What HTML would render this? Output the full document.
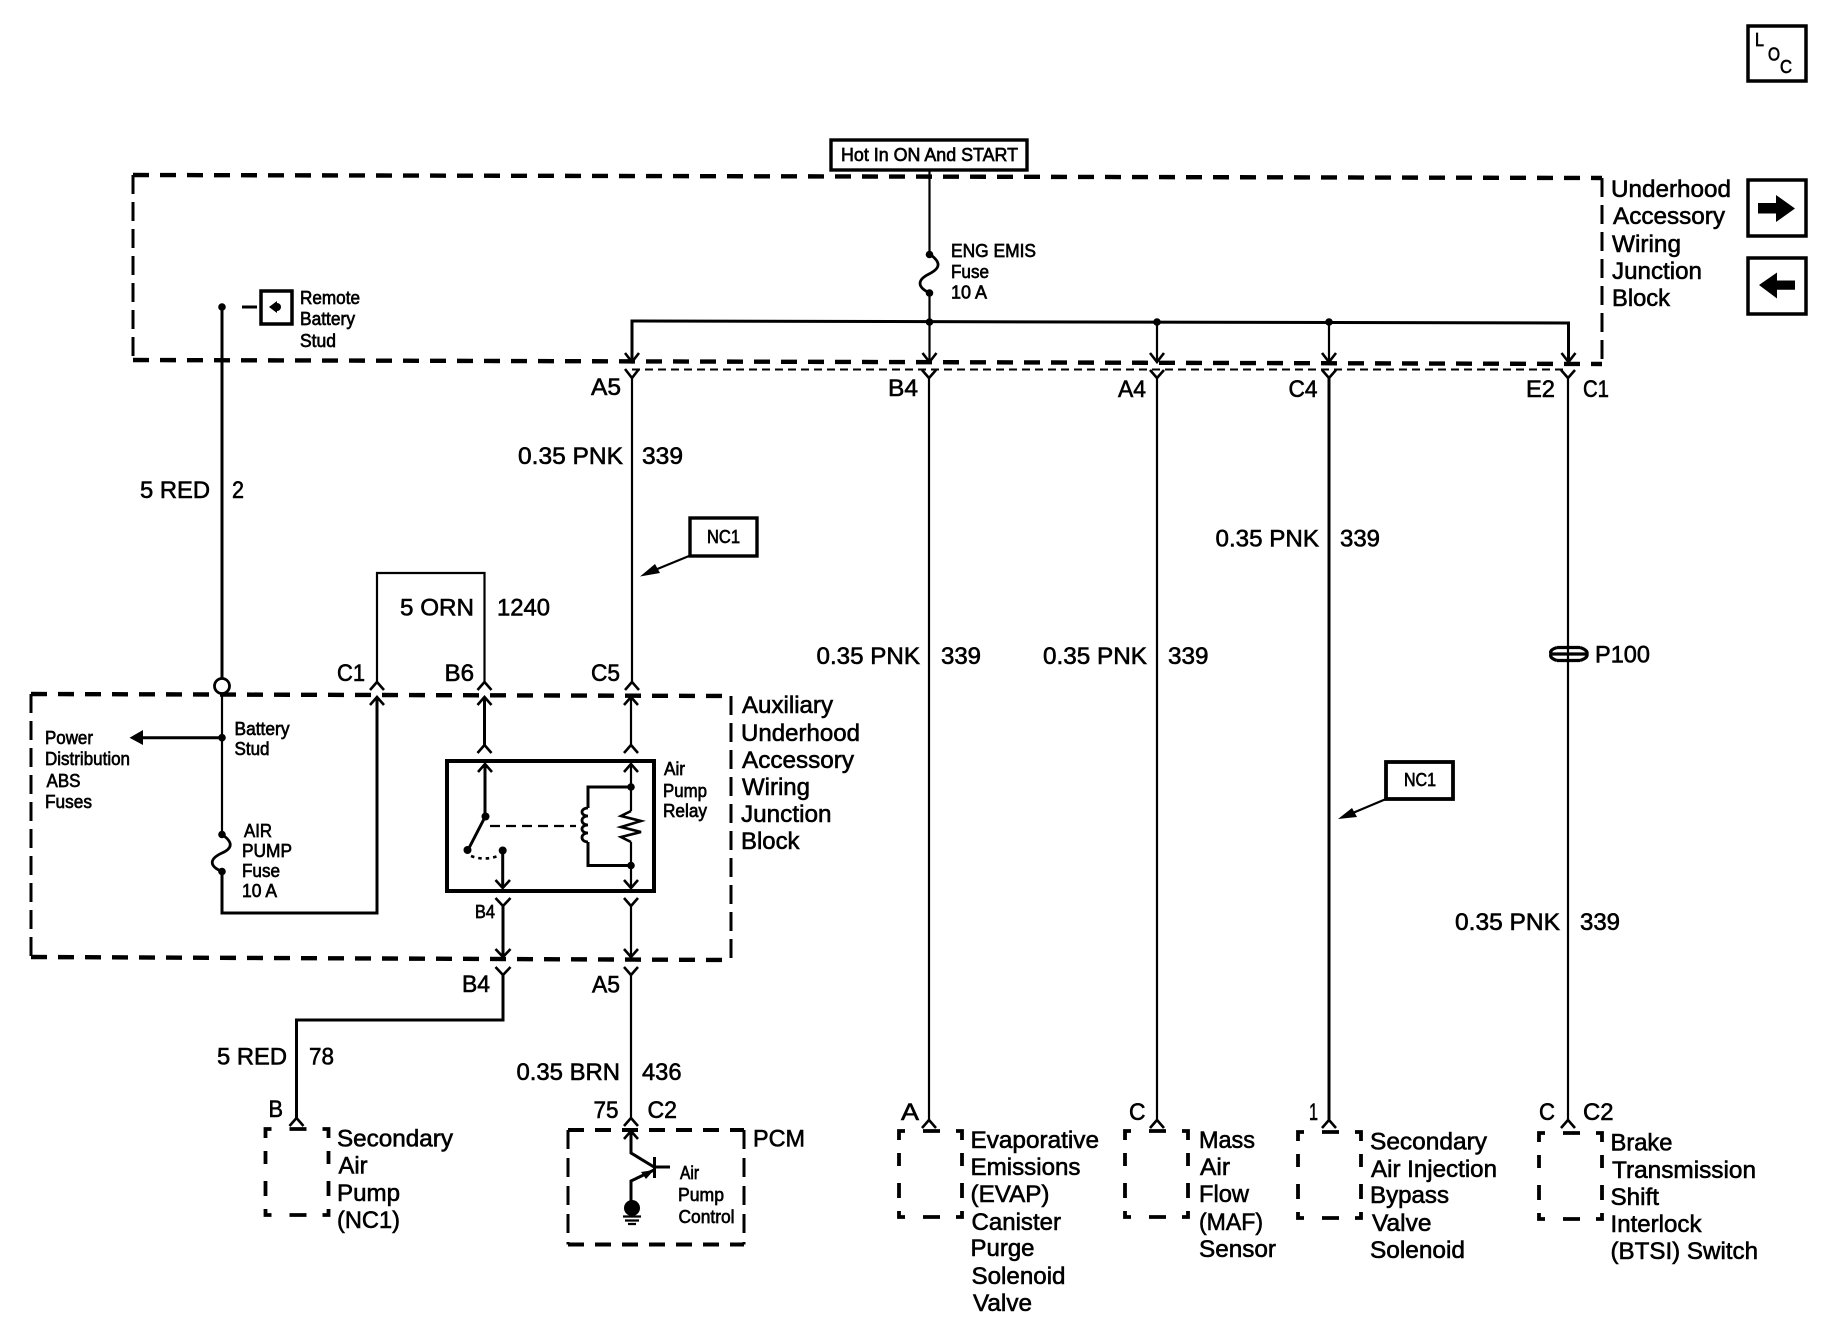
<!DOCTYPE html>
<html><head><meta charset="utf-8"><style>
html,body{margin:0;padding:0;background:#fff;width:1830px;height:1344px;overflow:hidden}
svg{display:block}
text{font-family:"Liberation Sans",sans-serif;fill:#000;stroke:#000}
.b{font-size:24px;stroke-width:.6px}
.s{font-size:18px;stroke-width:.65px}
.w{fill:none;stroke:#000;stroke-width:2.2}
.k{fill:none;stroke:#000;stroke-width:3}
.c{fill:none;stroke:#000;stroke-width:2.6}
.d{fill:none;stroke:#000;stroke-width:4.4;stroke-dasharray:16 11}
.v{fill:none;stroke:#000;stroke-width:3;stroke-dasharray:19 8}
</style></head><body>
<svg width="1830" height="1344" viewBox="0 0 1830 1344" xmlns="http://www.w3.org/2000/svg">
<defs>
<g id="sb" fill="none" stroke="#000" stroke-width="3.8">
<path d="M0 9V0H6M24 0H41M57 0H63V9M0 22V35M0 52V67M0 80V86H6M24 86H41M57 86H63V80M63 22V35M63 52V67"/>
</g>
</defs>

<!-- top dashed block -->
<path class="d" d="M133 175L1602 178"/>
<path class="d" d="M133 360L1602 364"/>
<path class="v" d="M133 175V360"/>
<path class="v" d="M1602 178V364"/>
<path d="M632 369.500H1568" fill="none" stroke="#000" stroke-width="2" stroke-dasharray="8 5"/>

<!-- lower dashed block -->
<path class="d" d="M31 694L731 696"/>
<path class="d" d="M31 957L731 960"/>
<path class="v" d="M31 694V957"/>
<path class="v" d="M731 696V960"/>

<!-- hot box -->
<rect x="831" y="140" width="196" height="30" fill="#fff" stroke="#000" stroke-width="3.4"/>
<text class="s" x="841" y="161" textLength="177" lengthAdjust="spacingAndGlyphs">Hot In ON And START</text>

<!-- LOC and nav -->
<rect x="1748" y="26" width="58" height="55" fill="none" stroke="#000" stroke-width="3.5"/>
<text class="s" x="1755" y="46" textLength="9" lengthAdjust="spacingAndGlyphs">L</text><text class="s" x="1768" y="60.500" textLength="12" lengthAdjust="spacingAndGlyphs">O</text><text class="s" x="1780" y="73" textLength="12" lengthAdjust="spacingAndGlyphs">C</text>
<rect x="1748" y="180" width="58" height="56" fill="none" stroke="#000" stroke-width="3.5"/>
<path d="M1758 203H1776V195L1795 208.500L1776 222V213.500H1758Z"/>
<rect x="1748" y="258" width="58" height="56" fill="none" stroke="#000" stroke-width="3.500"/>
<path d="M1795 280.500H1777V272.500L1759 285L1777 298.500V289.700H1795Z"/>

<!-- main bus and feeds -->
<path class="w" d="M929.500 170V254"/>
<path class="w" d="M929.500 293V362"/>
<path d="M929.500 254C941 262 941 268 929 274C917 280 917 287 929.500 293" fill="none" stroke="#000" stroke-width="2.800"/>
<circle cx="929.500" cy="254.500" r="3.800"/><circle cx="929.500" cy="293" r="3.800"/>
<path class="k" d="M632 362V321L1568.500 323V362"/>
<path class="w" d="M1157 322V362M1329 322V362"/>
<circle cx="929.500" cy="322" r="3.800"/><circle cx="1157" cy="322" r="3.800"/><circle cx="1329" cy="322" r="3.800"/>

<!-- down arrows at top-box boundary -->
<path class="c" d="M625 353L632 362L639 353M922.500 353L929.500 362L936.500 353M1150 353L1157 362L1164 353M1322 353L1329 362L1336 353M1561.500 353L1568.500 362L1575.500 353"/>
<!-- Y connectors -->
<path class="c" d="M625 369L632 378L639 369M922 370L929 378L936 370M1150 370L1157 378L1164 370M1322 370L1329 378L1336 370M1561 370L1568 378L1575 370"/>

<!-- long wires -->
<path class="w" d="M632 378V682"/>
<path class="w" d="M929 378V1120"/>
<path class="w" d="M1157 378V1120"/>
<path class="k" d="M1329 378V1120"/>
<path class="w" d="M1568 378V1120"/>

<!-- red wire and stud -->
<path class="k" d="M222 307V678"/>
<circle cx="222" cy="307" r="3.800"/>
<path class="k" d="M242 307H257"/>
<rect x="261" y="291" width="31" height="33" fill="#fff" stroke="#000" stroke-width="3.500"/>
<path d="M269 307L277 301V313Z"/><circle cx="277" cy="307" r="4"/>
<circle cx="222" cy="686" r="7.500" fill="#fff" stroke="#000" stroke-width="2.800"/>
<path class="w" d="M222 694V834"/>
<path d="M222 834.500C233 842 233 848 222 853C209 859 209 866 222 871.500" fill="none" stroke="#000" stroke-width="2.800"/>
<circle cx="222" cy="834.500" r="3.800"/><circle cx="222" cy="871.500" r="3.800"/>
<path class="k" d="M222 871.500V913H377V697"/>
<path class="k" d="M222 737.700H140"/>
<path d="M129.500 737.700L143 730V745Z"/><circle cx="222" cy="737.700" r="3.800"/>

<!-- ORN -->
<path class="w" d="M377 682V573H484.500V682"/>
<path class="c" d="M370 690L377 682L384 690M477.500 690L484.500 682L491.500 690M625 690L632 682L639 690"/>
<path class="c" d="M370 705L377 697L384 705M477.500 705L484.500 697L491.500 705M624 705L631 697L638 705"/>
<path class="k" d="M484.500 697V745"/>
<path class="w" d="M631 697V745"/>
<path class="c" d="M477.500 753L484.500 745L491.500 753M624 753L631 745L638 753"/>

<!-- relay -->
<rect x="447" y="761" width="207" height="130" fill="none" stroke="#000" stroke-width="4"/>
<path class="c" d="M478 772L485 764L492 772M624 772L631 764L638 772"/>
<path class="k" d="M485 764V817"/>
<path class="k" d="M485 817L468 850"/>
<circle cx="485.500" cy="816.500" r="4"/><circle cx="467.500" cy="850" r="4"/><circle cx="502.700" cy="850.500" r="4"/>
<path d="M471 856Q484 861 498 856" fill="none" stroke="#000" stroke-width="2.600" stroke-dasharray="3.500 4"/>
<path class="k" d="M502.700 850V888"/>
<path class="c" d="M495.500 880L502.700 888L510 880M624 880L631 888L638 880"/>
<path fill="none" stroke="#000" stroke-width="2.200" stroke-dasharray="10 6" d="M490 826H576"/>
<path class="k" d="M631 787H588V808M588 842V865.500H631"/>
<path d="M588 808C580 808 580 816 588 816C580 816 580 825 588 825C580 825 580 833 588 833C580 833 580 842 588 842" fill="none" stroke="#000" stroke-width="2.800"/>
<path class="w" d="M631 764V811M631 842V888"/>
<path d="M631 811L621 816L641 821L621 827L641 832L621 837L631 842" fill="none" stroke="#000" stroke-width="2.600"/>
<circle cx="631" cy="787" r="3.800"/><circle cx="631" cy="865.500" r="3.800"/>

<!-- lower relay wires -->
<path class="c" d="M495.500 898L503 906L510.500 898M624 898L631 906L638 898"/>
<path class="k" d="M503 906V957"/>
<path class="w" d="M631 906V957"/>
<path class="c" d="M495.500 949L503 957L510.500 949M624 949L631 957L638 949"/>
<path class="c" d="M495.500 967L503 975L510.500 967M624 967L631 975L638 967"/>
<path class="k" d="M503 975V1020H296.500V1118"/>
<path class="w" d="M631 975V1118"/>

<!-- bottom carets -->
<path class="c" d="M289.500 1126L296.500 1118L303.500 1126M624 1126L631 1118L638 1126M922 1128L929 1120L936 1128M1150 1128L1157 1120L1164 1128M1322 1128L1329 1120L1336 1128M1561 1128L1568 1120L1575 1128"/>

<!-- bottom dashed boxes -->
<use href="#sb" x="265.500" y="1129"/>
<use href="#sb" x="899" y="1131"/>
<use href="#sb" x="1125" y="1131"/>
<use href="#sb" x="1298" y="1132"/>
<use href="#sb" x="1539" y="1133"/>
<path fill="none" stroke="#000" stroke-width="4" stroke-dasharray="16 11" d="M568 1130H744"/>
<path fill="none" stroke="#000" stroke-width="4" stroke-dasharray="16 11" d="M568 1244.500H744"/>
<path fill="none" stroke="#000" stroke-width="3" stroke-dasharray="19 9" d="M568 1130V1244.500"/>
<path fill="none" stroke="#000" stroke-width="3" stroke-dasharray="19 9" d="M744 1130V1244.500"/>

<!-- PCM internals -->
<path class="c" d="M624 1139L631 1131L638 1139"/>
<path class="k" d="M631 1131V1153L654 1167"/>
<path class="k" d="M654.500 1157V1178M654.500 1167H670"/>
<path class="k" d="M654 1170L631 1181V1201"/>
<path d="M654 1170L641 1172L646 1179Z"/>
<ellipse cx="632" cy="1208" rx="8" ry="8"/>
<path class="w" d="M623 1216.500H641M625 1220.500H639M628 1224H636"/>

<!-- P100 -->
<path fill="none" stroke="#000" stroke-width="3.200" d="M1557 647.500H1580M1551 654H1587M1557 660.500H1580"/>
<path fill="none" stroke="#000" stroke-width="3.200" d="M1557 647.500Q1549 650 1551 654Q1549 658 1557 660.500M1580 647.500Q1588 650 1587 654Q1588 658 1580 660.500"/>

<!-- NC1 callouts -->
<rect x="690" y="518" width="67" height="38" fill="#fff" stroke="#000" stroke-width="3.400"/>
<text class="s" x="707" y="543" textLength="33" lengthAdjust="spacingAndGlyphs">NC1</text>
<path class="w" d="M689 556L650 572"/>
<path d="M640 576.500L655 564L660 573Z"/>
<rect x="1386" y="762" width="67" height="37" fill="#fff" stroke="#000" stroke-width="3.800"/>
<text class="s" x="1404" y="786" textLength="32" lengthAdjust="spacingAndGlyphs">NC1</text>
<path class="w" d="M1386 799L1348 815"/>
<path d="M1338 819L1352 808L1357 817Z"/>

<!-- small labels -->
<text class="s" x="300" y="304" textLength="60" lengthAdjust="spacingAndGlyphs">Remote</text>
<text class="s" x="300" y="325" textLength="55" lengthAdjust="spacingAndGlyphs">Battery</text>
<text class="s" x="300" y="347" textLength="36" lengthAdjust="spacingAndGlyphs">Stud</text>
<text class="s" x="951" y="257" textLength="85" lengthAdjust="spacingAndGlyphs">ENG EMIS</text>
<text class="s" x="951" y="278" textLength="38" lengthAdjust="spacingAndGlyphs">Fuse</text>
<text class="s" x="951" y="298.500" textLength="36" lengthAdjust="spacingAndGlyphs">10 A</text>
<text class="s" x="45" y="744" textLength="48" lengthAdjust="spacingAndGlyphs">Power</text>
<text class="s" x="45" y="765" textLength="85" lengthAdjust="spacingAndGlyphs">Distribution</text>
<text class="s" x="46.500" y="787" textLength="34" lengthAdjust="spacingAndGlyphs">ABS</text>
<text class="s" x="45" y="808" textLength="47" lengthAdjust="spacingAndGlyphs">Fuses</text>
<text class="s" x="234.500" y="735" textLength="55" lengthAdjust="spacingAndGlyphs">Battery</text>
<text class="s" x="234.500" y="755" textLength="35" lengthAdjust="spacingAndGlyphs">Stud</text>
<text class="s" x="244" y="837" textLength="28" lengthAdjust="spacingAndGlyphs">AIR</text>
<text class="s" x="242" y="857" textLength="50" lengthAdjust="spacingAndGlyphs">PUMP</text>
<text class="s" x="242" y="877" textLength="38" lengthAdjust="spacingAndGlyphs">Fuse</text>
<text class="s" x="242" y="897" textLength="35" lengthAdjust="spacingAndGlyphs">10 A</text>
<text class="s" x="664" y="775" textLength="21" lengthAdjust="spacingAndGlyphs">Air</text>
<text class="s" x="663" y="797" textLength="44" lengthAdjust="spacingAndGlyphs">Pump</text>
<text class="s" x="663" y="817" textLength="44" lengthAdjust="spacingAndGlyphs">Relay</text>
<text class="s" x="475" y="918" textLength="20" lengthAdjust="spacingAndGlyphs">B4</text>
<text class="s" x="680" y="1179" textLength="19" lengthAdjust="spacingAndGlyphs">Air</text>
<text class="s" x="678" y="1201" textLength="46" lengthAdjust="spacingAndGlyphs">Pump</text>
<text class="s" x="678.500" y="1223" textLength="56" lengthAdjust="spacingAndGlyphs">Control</text>

<!-- large labels -->
<text class="b" x="1611" y="197" textLength="120" lengthAdjust="spacingAndGlyphs">Underhood</text>
<text class="b" x="1613" y="224" textLength="112" lengthAdjust="spacingAndGlyphs">Accessory</text>
<text class="b" x="1612" y="252" textLength="69" lengthAdjust="spacingAndGlyphs">Wiring</text>
<text class="b" x="1612" y="279" textLength="90" lengthAdjust="spacingAndGlyphs">Junction</text>
<text class="b" x="1612" y="306" textLength="58" lengthAdjust="spacingAndGlyphs">Block</text>

<text class="b" x="591" y="395" textLength="30" lengthAdjust="spacingAndGlyphs">A5</text>
<text class="b" x="888" y="396" textLength="30" lengthAdjust="spacingAndGlyphs">B4</text>
<text class="b" x="1118" y="397" textLength="28" lengthAdjust="spacingAndGlyphs">A4</text>
<text class="b" x="1288.500" y="397" textLength="29" lengthAdjust="spacingAndGlyphs">C4</text>
<text class="b" x="1526" y="397" textLength="29" lengthAdjust="spacingAndGlyphs">E2</text>
<text class="b" x="1583" y="397" textLength="26" lengthAdjust="spacingAndGlyphs">C1</text>

<text class="b" x="518" y="464" textLength="105" lengthAdjust="spacingAndGlyphs">0.35 PNK</text>
<text class="b" x="642" y="464" textLength="41" lengthAdjust="spacingAndGlyphs">339</text>
<text class="b" x="140" y="498" textLength="70" lengthAdjust="spacingAndGlyphs">5 RED</text>
<text class="b" x="232" y="498" textLength="12" lengthAdjust="spacingAndGlyphs">2</text>
<text class="b" x="1215.500" y="546.500" textLength="103.500" lengthAdjust="spacingAndGlyphs">0.35 PNK</text>
<text class="b" x="1340" y="546.500" textLength="40" lengthAdjust="spacingAndGlyphs">339</text>
<text class="b" x="400" y="615.500" textLength="74" lengthAdjust="spacingAndGlyphs">5 ORN</text>
<text class="b" x="497" y="615.500" textLength="53" lengthAdjust="spacingAndGlyphs">1240</text>
<text class="b" x="816.500" y="664" textLength="103.500" lengthAdjust="spacingAndGlyphs">0.35 PNK</text>
<text class="b" x="941" y="664" textLength="40" lengthAdjust="spacingAndGlyphs">339</text>
<text class="b" x="1043" y="664" textLength="104" lengthAdjust="spacingAndGlyphs">0.35 PNK</text>
<text class="b" x="1168" y="664" textLength="40.500" lengthAdjust="spacingAndGlyphs">339</text>
<text class="b" x="1595" y="662.500" textLength="55" lengthAdjust="spacingAndGlyphs">P100</text>
<text class="b" x="1455" y="930" textLength="105" lengthAdjust="spacingAndGlyphs">0.35 PNK</text>
<text class="b" x="1580" y="930" textLength="40" lengthAdjust="spacingAndGlyphs">339</text>

<text class="b" x="337" y="681" textLength="28" lengthAdjust="spacingAndGlyphs">C1</text>
<text class="b" x="444.500" y="681" textLength="29.500" lengthAdjust="spacingAndGlyphs">B6</text>
<text class="b" x="591" y="681" textLength="29" lengthAdjust="spacingAndGlyphs">C5</text>

<text class="b" x="742" y="713" textLength="91" lengthAdjust="spacingAndGlyphs">Auxiliary</text>
<text class="b" x="741" y="741" textLength="119" lengthAdjust="spacingAndGlyphs">Underhood</text>
<text class="b" x="742" y="768" textLength="112" lengthAdjust="spacingAndGlyphs">Accessory</text>
<text class="b" x="742" y="795" textLength="68" lengthAdjust="spacingAndGlyphs">Wiring</text>
<text class="b" x="741" y="822" textLength="90.500" lengthAdjust="spacingAndGlyphs">Junction</text>
<text class="b" x="741" y="849" textLength="58.500" lengthAdjust="spacingAndGlyphs">Block</text>

<text class="b" x="462" y="992" textLength="28" lengthAdjust="spacingAndGlyphs">B4</text>
<text class="b" x="592" y="992.500" textLength="28" lengthAdjust="spacingAndGlyphs">A5</text>
<text class="b" x="217" y="1064.500" textLength="70" lengthAdjust="spacingAndGlyphs">5 RED</text>
<text class="b" x="309" y="1064.500" textLength="25" lengthAdjust="spacingAndGlyphs">78</text>
<text class="b" x="516.500" y="1080" textLength="103.500" lengthAdjust="spacingAndGlyphs">0.35 BRN</text>
<text class="b" x="642" y="1080" textLength="39.500" lengthAdjust="spacingAndGlyphs">436</text>
<text class="b" x="268.500" y="1117" textLength="14.500" lengthAdjust="spacingAndGlyphs">B</text>
<text class="b" x="593.500" y="1118" textLength="25" lengthAdjust="spacingAndGlyphs">75</text>
<text class="b" x="647.500" y="1118" textLength="29.500" lengthAdjust="spacingAndGlyphs">C2</text>
<text class="b" x="901" y="1120" textLength="18" lengthAdjust="spacingAndGlyphs">A</text>
<text class="b" x="1129" y="1120" textLength="16.500" lengthAdjust="spacingAndGlyphs">C</text>
<text class="b" x="1309" y="1120" textLength="9" lengthAdjust="spacingAndGlyphs">1</text>
<text class="b" x="1539" y="1120" textLength="16" lengthAdjust="spacingAndGlyphs">C</text>
<text class="b" x="1583" y="1120" textLength="30.500" lengthAdjust="spacingAndGlyphs">C2</text>

<text class="b" x="337" y="1146.500" textLength="116" lengthAdjust="spacingAndGlyphs">Secondary</text>
<text class="b" x="338.500" y="1173.500" textLength="29" lengthAdjust="spacingAndGlyphs">Air</text>
<text class="b" x="337" y="1201" textLength="63" lengthAdjust="spacingAndGlyphs">Pump</text>
<text class="b" x="337" y="1228" textLength="63" lengthAdjust="spacingAndGlyphs">(NC1)</text>
<text class="b" x="753" y="1146.500" textLength="52" lengthAdjust="spacingAndGlyphs">PCM</text>

<text class="b" x="970.500" y="1148" textLength="128.500" lengthAdjust="spacingAndGlyphs">Evaporative</text>
<text class="b" x="970.500" y="1175" textLength="110" lengthAdjust="spacingAndGlyphs">Emissions</text>
<text class="b" x="970.500" y="1202" textLength="79" lengthAdjust="spacingAndGlyphs">(EVAP)</text>
<text class="b" x="971.500" y="1230" textLength="89.500" lengthAdjust="spacingAndGlyphs">Canister</text>
<text class="b" x="970.500" y="1256" textLength="64" lengthAdjust="spacingAndGlyphs">Purge</text>
<text class="b" x="971.500" y="1284" textLength="94" lengthAdjust="spacingAndGlyphs">Solenoid</text>
<text class="b" x="973" y="1311" textLength="59" lengthAdjust="spacingAndGlyphs">Valve</text>

<text class="b" x="1199" y="1148" textLength="56" lengthAdjust="spacingAndGlyphs">Mass</text>
<text class="b" x="1200" y="1175" textLength="30" lengthAdjust="spacingAndGlyphs">Air</text>
<text class="b" x="1199" y="1202" textLength="50" lengthAdjust="spacingAndGlyphs">Flow</text>
<text class="b" x="1199" y="1230" textLength="64" lengthAdjust="spacingAndGlyphs">(MAF)</text>
<text class="b" x="1199" y="1257" textLength="77" lengthAdjust="spacingAndGlyphs">Sensor</text>

<text class="b" x="1370" y="1149.500" textLength="117" lengthAdjust="spacingAndGlyphs">Secondary</text>
<text class="b" x="1371" y="1177" textLength="126" lengthAdjust="spacingAndGlyphs">Air Injection</text>
<text class="b" x="1370" y="1203" textLength="79" lengthAdjust="spacingAndGlyphs">Bypass</text>
<text class="b" x="1372" y="1231" textLength="59.500" lengthAdjust="spacingAndGlyphs">Valve</text>
<text class="b" x="1370" y="1258" textLength="95" lengthAdjust="spacingAndGlyphs">Solenoid</text>

<text class="b" x="1610.500" y="1150.500" textLength="62" lengthAdjust="spacingAndGlyphs">Brake</text>
<text class="b" x="1612" y="1178" textLength="144" lengthAdjust="spacingAndGlyphs">Transmission</text>
<text class="b" x="1610.500" y="1205" textLength="48.500" lengthAdjust="spacingAndGlyphs">Shift</text>
<text class="b" x="1610.500" y="1232" textLength="91" lengthAdjust="spacingAndGlyphs">Interlock</text>
<text class="b" x="1610.500" y="1259" textLength="147.500" lengthAdjust="spacingAndGlyphs">(BTSI) Switch</text>
</svg>
</body></html>
